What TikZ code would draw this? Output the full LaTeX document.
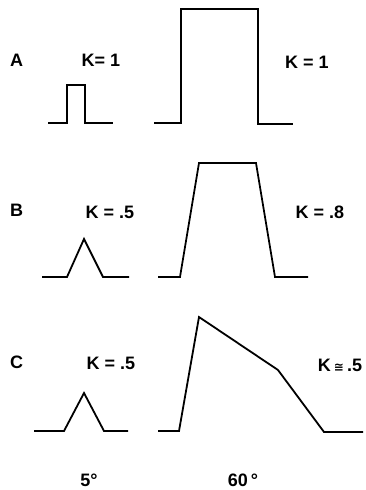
\documentclass[tikz,border=0pt]{standalone}
\usepackage{fontspec}
\setmainfont{Liberation Sans}
\newfontfamily\symfont{DejaVu Sans}
\usetikzlibrary{positioning}

\tikzset{
  pulse/.style={line width=1.8pt, line join=miter},
  rowlabel/.style={font=\fontsize{18}{20}\selectfont\bfseries, anchor=west, inner sep=0pt},
  klabel/.style={font=\fontsize{18}{20}\selectfont\bfseries, inner sep=0pt}
}

\begin{document}
\begin{tikzpicture}[x=1pt, y=-1pt]
  \useasboundingbox (0,0) rectangle (365,490);

  % ===== A: 矩形脉冲 =====
  \node[rowlabel] (rowA) at (10, 60) {A};
  \node[klabel] (kA5) at (101, 60) {K= 1};
  \node[klabel] (kA60) at (307, 62) {K = 1};
  \draw[pulse] (48,123) -- (67,123) -- (67,85) -- (85,85) -- (85,123) -- (113,123);
  \draw[pulse] (154,123) -- (181,123) -- (181,9) -- (258,9) -- (258,124) -- (293,124);

  % ===== B: 三角 / 梯形 =====
  \node[rowlabel] (rowB) at (10, 210) {B};
  \node[klabel] (kB5) at (110, 212) {K = .5};
  \node[klabel] (kB60) at (320, 212) {K = .8};
  \draw[pulse] (42,277) -- (67,277) -- (84,239) -- (103,277) -- (129,277);
  \draw[pulse] (158,277) -- (180,277) -- (199,163) -- (256,163) -- (275,277) -- (308,277);

  % ===== C: 三角 / 不对称 =====
  \node[rowlabel] (rowC) at (10, 362) {C};
  \node[klabel] (kC5) at (111, 363) {K = .5};
  \node[klabel] (kC60) at (340, 365) {K\,{\symfont\fontsize{12}{14}\selectfont ≅}\,.5};
  \draw[pulse] (34,431) -- (64,431) -- (84,393) -- (104,431) -- (128,431);
  \draw[pulse] (158,431) -- (179,431) -- (199,317) -- (278,370) -- (324,432) -- (363,432);

  % 角度
  \node[klabel] (deg5) at (89, 480) {5°};
  \node[klabel] (deg60) at (243, 480) {60\,°};
\end{tikzpicture}
\end{document}
